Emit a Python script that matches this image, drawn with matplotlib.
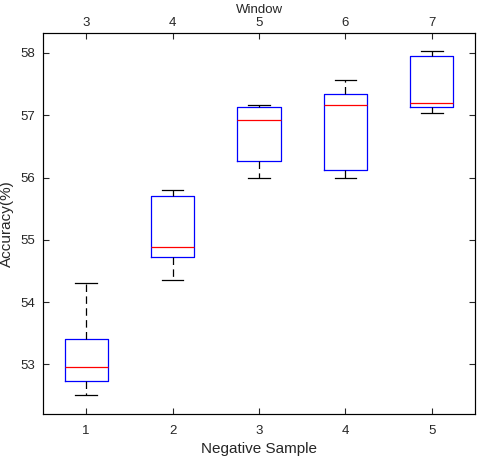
import matplotlib
matplotlib.use("Agg")
import matplotlib.pyplot as plt

plt.rcParams["font.family"] = ["Liberation Sans", "DejaVu Sans"]

# box statistics
negative_sample = [1, 2, 3, 4, 5]
window = [3, 4, 5, 6, 7]
whisker_low = [52.51, 54.36, 56.00, 56.00, 57.04]
q1 = [52.73, 54.72, 56.27, 56.12, 57.13]
median = [52.96, 54.88, 56.92, 57.16, 57.20]
q3 = [53.41, 55.71, 57.13, 57.34, 57.95]
whisker_high = [54.31, 55.80, 57.16, 57.56, 58.03]

stats = []
for i in range(len(negative_sample)):
    stats.append({
        "whislo": whisker_low[i], "q1": q1[i], "med": median[i],
        "q3": q3[i], "whishi": whisker_high[i], "fliers": [],
    })

fig = plt.figure(figsize=(4.81, 4.61), dpi=100)
ax = fig.add_axes([43 / 481, 1 - 413.7 / 461, 432 / 481, 380.7 / 461])

ax.bxp(stats, positions=negative_sample, widths=0.5, showfliers=False,
       boxprops=dict(color="#0000ff", linewidth=0.9),
       medianprops=dict(color="#ff0000", linewidth=0.9),
       whiskerprops=dict(color="black", linewidth=0.9, linestyle=(0, (6, 3.5))),
       capprops=dict(color="black", linewidth=0.9),
       capwidths=0.25)

ax.set_xlim(0.5, 5.5)
ax.set_ylim(52.21, 58.32)
ax.set_xticks(negative_sample)
ax.set_yticks([53, 54, 55, 56, 57, 58])
ax.tick_params(axis="x", pad=8)
ax.tick_params(axis="y", pad=6)
ax.tick_params(direction="in", length=4, labelsize=9.5, colors="#262626",
               top=False, right=True)
ax.set_xlabel("Negative Sample", fontsize=11, color="#262626", labelpad=4)
ax.set_ylabel("Accuracy(%)", fontsize=11, color="#262626")
for s in ax.spines.values():
    s.set_color("#262626")
    s.set_linewidth(0.8)

top = ax.twiny()
top.set_xlim(ax.get_xlim())
top.set_xticks(negative_sample)
top.set_xticklabels([str(w) for w in window])
top.tick_params(direction="in", length=4, labelsize=9.5, colors="#262626", pad=3)
top.set_xlabel("Window", fontsize=9.5, color="#262626", labelpad=3)

fig.savefig("out.png", dpi=100)
